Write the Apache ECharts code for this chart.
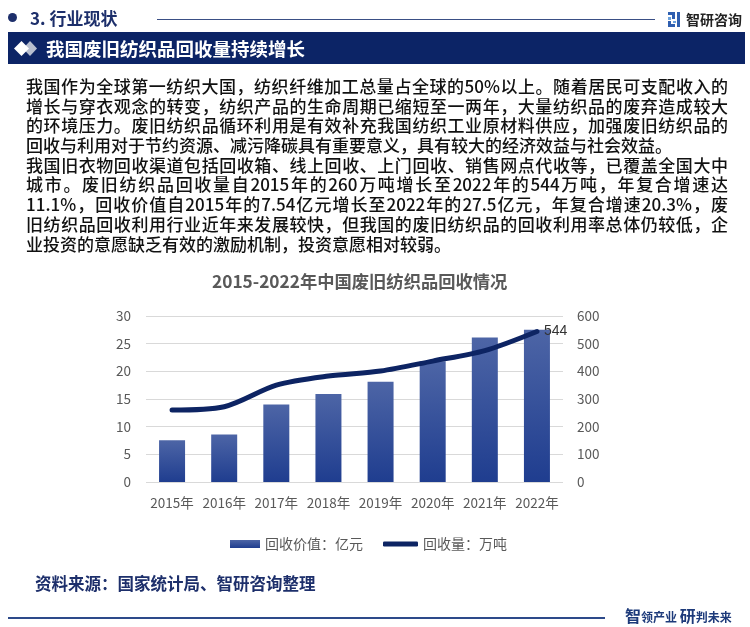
<!DOCTYPE html>
<html>
<head>
<meta charset="utf-8">
<script src="https://cdn.jsdelivr.net/npm/echarts@6/dist/echarts.min.js"></script>
<style>
  html,body{margin:0;padding:0;background:#fff;}
  #wrap{position:relative;width:750px;height:627px;overflow:hidden;font-family:"Noto Sans CJK SC","Noto Sans",sans-serif;}
  #chart{position:absolute;left:0;top:0;width:750px;height:627px;}
  .abs{position:absolute;white-space:nowrap;}
  .para{position:absolute;left:26px;width:702px;font-size:17px;line-height:19.7px;color:#111;font-weight:500;font-family:"Noto Sans CJK SC",sans-serif;}
  .para div{text-align:justify;text-align-last:justify;height:19.7px;white-space:nowrap;}
  .para div.last{text-align-last:left;}
</style>
</head>
<body>
<div id="wrap">
  <div id="chart"></div>
  <!-- header -->
  <div class="abs" style="left:8px;top:13px;width:9px;height:9px;border-radius:50%;background:#1d2f6b;"></div>
  <div class="abs" style="left:30px;top:7px;font-size:17px;line-height:22px;font-weight:bold;color:#1d2f6b;">3. 行业现状</div>
  <div class="abs" style="left:157px;top:18.5px;width:498px;height:1.3px;background:#3a4f85;"></div>
  <svg class="abs" style="left:668px;top:12px;" width="13" height="15" viewBox="0 0 13 15">
    <rect x="0" y="0" width="7" height="3" fill="#2f5fb0"/>
    <rect x="4" y="3" width="3" height="4" fill="#2f5fb0"/>
    <rect x="0" y="5" width="3" height="3" fill="#6aa0dc"/>
    <rect x="0" y="9" width="3" height="6" fill="#2f5fb0"/>
    <rect x="0" y="12" width="7" height="3" fill="#2f5fb0"/>
    <rect x="9" y="0" width="3" height="15" fill="#2f5fb0"/>
    <rect x="5" y="9" width="3" height="2" fill="#6aa0dc"/>
  </svg>
  <div class="abs" style="left:686px;top:8px;font-size:14px;line-height:22px;font-weight:bold;color:#222;">智研咨询</div>
  <div class="abs" style="left:8px;top:32px;width:737px;height:32px;background:#0c2466;"></div>
  <svg class="abs" style="left:14px;top:41px;" width="24" height="15" viewBox="0 0 24 15">
    <polygon points="16,0 23,7.5 16,15 9,7.5" fill="#b8bfd0"/>
    <polygon points="7.5,0 15,7.5 7.5,15 0,7.5" fill="#ffffff"/>
  </svg>
  <div class="abs" style="left:46px;top:36px;font-size:18.5px;line-height:24px;font-weight:bold;color:#fff;">我国废旧纺织品回收量持续增长</div>
  <!-- paragraph -->
  <div class="para" style="top:76px;">
    <div>我国作为全球第一纺织大国，纺织纤维加工总量占全球的50%以上。随着居民可支配收入的</div>
    <div>增长与穿衣观念的转变，纺织产品的生命周期已缩短至一两年，大量纺织品的废弃造成较大</div>
    <div>的环境压力。废旧纺织品循环利用是有效补充我国纺织工业原材料供应，加强废旧纺织品的</div>
    <div class="last">回收与利用对于节约资源、减污降碳具有重要意义，具有较大的经济效益与社会效益。</div>
    <div>我国旧衣物回收渠道包括回收箱、线上回收、上门回收、销售网点代收等，已覆盖全国大中</div>
    <div>城市。废旧纺织品回收量自2015年的260万吨增长至2022年的544万吨，年复合增速达</div>
    <div>11.1%，回收价值自2015年的7.54亿元增长至2022年的27.5亿元，年复合增速20.3%，废</div>
    <div>旧纺织品回收利用行业近年来发展较快，但我国的废旧纺织品的回收利用率总体仍较低，企</div>
    <div class="last">业投资的意愿缺乏有效的激励机制，投资意愿相对较弱。</div>
  </div>
  <!-- footer -->
  <div class="abs" style="left:35px;top:572px;font-size:16.5px;line-height:22px;font-weight:bold;color:#1d2f6b;">资料来源：国家统计局、智研咨询整理</div>
  <div class="abs" style="left:8px;top:617px;width:597px;height:1.5px;background:#2d4a8a;"></div>
  <div class="abs" style="left:625px;top:604px;line-height:22px;font-weight:bold;color:#1d3a7a;"><span style="font-size:16px;">智</span><span style="font-size:12px;">领产业 </span><span style="font-size:16px;">研</span><span style="font-size:12px;">判未来</span></div>
</div>
<script>
const years = ['2015年','2016年','2017年','2018年','2019年','2020年','2021年','2022年'];
const recoveryValue = [7.54, 8.6, 14.0, 15.9, 18.1, 21.8, 26.1, 27.5];   // 亿元
const recoveryVolume = [260, 272, 350, 383, 401, 437, 475, 544];        // 万吨
const valueAxisMax = 30, valueAxisStep = 5;
const volumeAxisMax = 600, volumeAxisStep = 100;
const chartTitle = '2015-2022年中国废旧纺织品回收情况';
const seriesNames = ['回收价值：亿元', '回收量：万吨'];

const chart = echarts.init(document.getElementById('chart'), null, {renderer:'canvas'});
const lineData = recoveryVolume.map((v, i) => i === recoveryVolume.length - 1
  ? {value: v, label: {show: true, position: 'right', distance: 7, color: '#333', fontSize: 14}}
  : v);
const fam = '"Noto Sans CJK SC","Noto Sans",sans-serif';
chart.setOption({
  animation: false,
  title: {
    text: chartTitle, left: 207, top: 268,
    textStyle: {fontSize: 17.3, fontWeight: 'bold', color: '#595959', fontFamily: fam}
  },
  legend: [
    {data: [seriesNames[0]], left: 225, top: 532, itemWidth: 30, itemHeight: 8, icon: 'rect',
     textStyle: {fontSize: 14, color: '#595959', fontFamily: fam}},
    {data: [seriesNames[1]], left: 378, top: 532, itemWidth: 35, itemHeight: 5, icon: 'roundRect',
     textStyle: {fontSize: 14, color: '#595959', fontFamily: fam}}
  ],
  grid: {left: 146, right: 187, top: 316, bottom: 145},
  xAxis: {
    type: 'category', data: years,
    axisLine: {show: false}, axisTick: {show: false},
    axisLabel: {interval: 0, margin: 14, fontSize: 13.5, color: '#595959', fontFamily: fam}
  },
  yAxis: [
    {type: 'value', min: 0, max: valueAxisMax, interval: valueAxisStep,
     axisLine: {show: false}, axisTick: {show: false},
     axisLabel: {margin: 15, fontSize: 13.5, color: '#595959', fontFamily: fam},
     splitLine: {lineStyle: {color: '#d9d9d9', width: 1}}},
    {type: 'value', min: 0, max: volumeAxisMax, interval: volumeAxisStep,
     axisLine: {show: false}, axisTick: {show: false},
     axisLabel: {margin: 14, fontSize: 13.5, color: '#595959', fontFamily: fam},
     splitLine: {show: false}}
  ],
  series: [
    {name: seriesNames[0], type: 'bar', data: recoveryValue, barWidth: 26, yAxisIndex: 0,
     itemStyle: {color: new echarts.graphic.LinearGradient(0,0,0,1,[{offset:0,color:'#4d65a6'},{offset:1,color:'#1f3d8f'}])}},
    {name: seriesNames[1], type: 'line', data: lineData, yAxisIndex: 1, smooth: 0.3,
     symbol: 'circle', symbolSize: 0, showSymbol: true,
     lineStyle: {width: 5, color: '#0d2463', cap: 'round'},
     itemStyle: {color: '#0d2463'}}
  ]
});
</script>
</body>
</html>
